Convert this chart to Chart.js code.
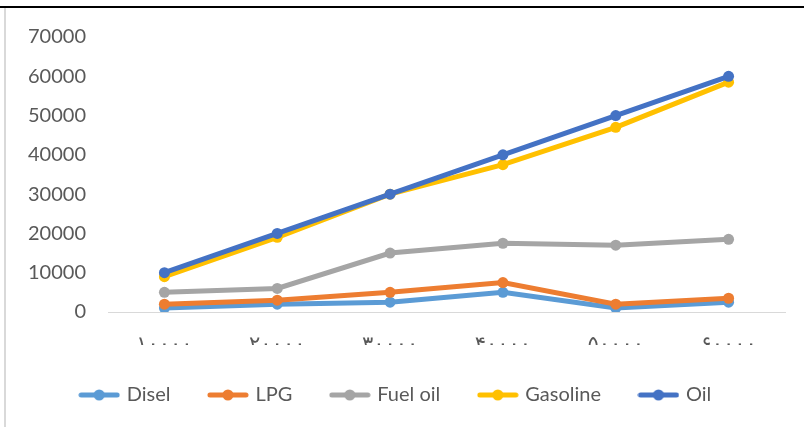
<!DOCTYPE html>
<html>
<head>
<meta charset="utf-8">
<script src="https://cdn.jsdelivr.net/npm/chart.js@4.4.0/dist/chart.umd.min.js"></script>
<style>
  html, body { margin: 0; padding: 0; background: #fff; }
  #wrap { position: relative; width: 804px; height: 427px; overflow: hidden; }
  #chart { position: absolute; left: 0; top: 0; }
  #topLine { position: absolute; left: 0; top: 6px; width: 804px; height: 2px; background: #000; }
  #leftLine { position: absolute; left: 4px; top: 8px; width: 2px; height: 419px; background: #d9d9d9; }
</style>
</head>
<body>
<div id="wrap">
  <canvas id="chart" width="804" height="427"></canvas>
  <div id="topLine"></div>
  <div id="leftLine"></div>
</div>
<script>
// Дані графіка
const categories = ["۱۰۰۰۰", "۲۰۰۰۰", "۳۰۰۰۰", "۴۰۰۰۰", "۵۰۰۰۰", "۶۰۰۰۰"];
const seriesNames = ["Disel", "LPG", "Fuel oil", "Gasoline", "Oil"];
const diselValues = [1000, 2000, 2500, 5000, 1000, 2500];
const lpgValues = [2000, 3000, 5000, 7500, 2000, 3500];
const fuelOilValues = [5000, 6000, 15000, 17500, 17000, 18500];
const gasolineValues = [9000, 19000, 30000, 37500, 47000, 58500];
const oilValues = [10000, 20000, 30000, 40000, 50000, 60000];
const yMin = 0;
const yMax = 70000;
const yStep = 10000;

const colors = ["#5b9bd5", "#ed7d31", "#a5a5a5", "#ffc000", "#4472c4"];
const allValues = [diselValues, lpgValues, fuelOilValues, gasolineValues, oilValues];

// іконка легенди: лінія з маркером
function legendIcon(color) {
  const c = document.createElement("canvas");
  c.width = 42;
  c.height = 12;
  const g = c.getContext("2d");
  g.strokeStyle = color;
  g.lineWidth = 5;
  g.lineCap = "round";
  g.beginPath();
  g.moveTo(3, 6);
  g.lineTo(39, 6);
  g.stroke();
  g.fillStyle = color;
  g.beginPath();
  g.arc(21, 6, 5.5, 0, Math.PI * 2);
  g.fill();
  return c;
}
const icons = colors.map(legendIcon);

const datasets = seriesNames.map((name, i) => ({
  label: name,
  data: allValues[i],
  borderColor: colors[i],
  backgroundColor: colors[i],
  pointBackgroundColor: colors[i],
  pointBorderColor: colors[i],
  borderWidth: 5,
  pointRadius: 5.5,
  pointBorderWidth: 0,
  tension: 0,
  order: seriesNames.length - i // пізніші серії зверху
}));

const chart = new Chart(document.getElementById("chart").getContext("2d"), {
  type: "line",
  data: { labels: categories, datasets },
  options: {
    responsive: false,
    animation: false,
    devicePixelRatio: 1,
    layout: { padding: { top: 37, left: 8, right: 19, bottom: 12 } },
    plugins: {
      tooltip: { enabled: false },
      legend: {
        position: "bottom",
        align: "center",
        labels: {
          usePointStyle: true,
          pointStyleWidth: 35,
          padding: 40,
          color: "#595959",
          font: { family: "Lato", size: 20 },
          generateLabels: (ch) => {
            const items = Chart.defaults.plugins.legend.labels.generateLabels(ch);
            items.sort((a, b) => a.datasetIndex - b.datasetIndex);
            items.forEach(it => { it.pointStyle = icons[it.datasetIndex]; });
            return items;
          }
        }
      }
    },
    scales: {
      x: {
        offset: true,
        grid: { display: false, drawTicks: false },
        border: { display: true, color: "#d9d9d9", width: 1 },
        ticks: {
          color: "#595959",
          font: { family: "DejaVu Sans", size: 21 },
          padding: 21,
          maxRotation: 0
        },
        afterFit: (scale) => { scale.height = 33; }
      },
      y: {
        min: yMin,
        max: yMax,
        grid: { display: false, drawTicks: false },
        border: { display: false },
        ticks: {
          stepSize: yStep,
          color: "#595959",
          font: { family: "Lato", size: 20 },
          padding: 22,
          callback: (v) => String(v)
        },
        afterFit: (scale) => { scale.width = 100; }
      }
    }
  }
});
</script>
</body>
</html>
